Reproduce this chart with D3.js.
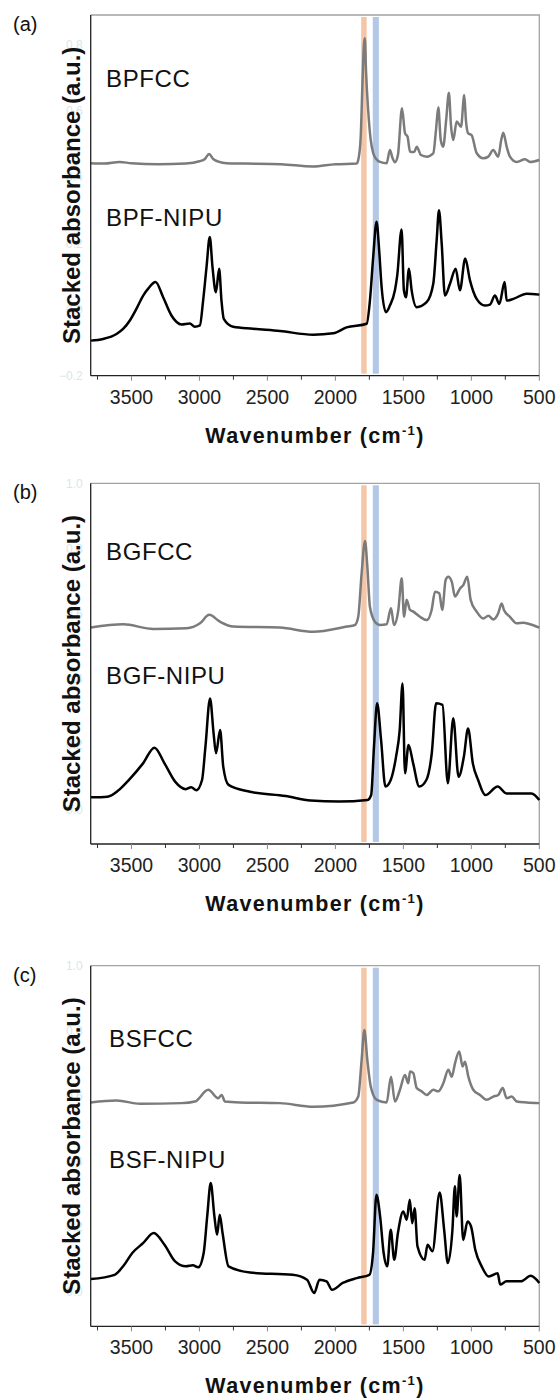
<!DOCTYPE html>
<html>
<head>
<meta charset="utf-8">
<script src="https://cdn.jsdelivr.net/npm/d3@7"></script>
<style>
  html, body { margin: 0; padding: 0; background: #fff; }
  svg { display: block; font-family: "Liberation Sans", Arial, sans-serif; }
</style>
</head>
<body>
<svg id="svg" width="559" height="1399"></svg>
<script>
// ---- data (wavenumber cm-1, absorbance) ----
const wnTicks = d3.range(500, 3751, 250);
const wnLabels = [3500, 3000, 2500, 2000, 1500, 1000, 500];
const bandRanges = [[1810, 1770], [1725, 1680]];

const bpfcc = [[3800,0.442],[3700,0.441],[3587,0.446],[3500,0.442],[3300,0.439],[3100,0.441],[3000,0.448],[2960,0.455],[2929,0.470],[2900,0.455],[2860,0.447],[2800,0.442],[2666,0.441],[2400,0.439],[2166,0.432],[2000,0.439],[1844,0.441],[1832,0.452],[1815,0.512],[1800,0.694],[1790,0.800],[1783,0.820],[1775,0.724],[1759,0.603],[1740,0.512],[1722,0.473],[1700,0.455],[1672,0.446],[1623,0.442],[1599,0.482],[1580,0.458],[1562,0.445],[1540,0.467],[1510,0.608],[1488,0.533],[1469,0.522],[1451,0.477],[1420,0.476],[1402,0.492],[1371,0.467],[1329,0.462],[1280,0.472],[1260,0.542],[1243,0.611],[1225,0.512],[1207,0.492],[1185,0.573],[1165,0.655],[1150,0.558],[1133,0.512],[1108,0.568],[1076,0.552],[1052,0.648],[1040,0.573],[1023,0.532],[998,0.527],[961,0.473],[912,0.457],[875,0.462],[839,0.482],[802,0.462],[780,0.512],[765,0.534],[740,0.492],[716,0.462],[666,0.446],[605,0.454],[568,0.446],[500,0.452]];

const bpfNipu = [[3800,-0.094],[3709,-0.089],[3610,-0.074],[3560,-0.058],[3512,-0.033],[3460,0.005],[3414,0.042],[3377,0.063],[3323,0.083],[3267,0.037],[3206,-0.018],[3132,-0.045],[3071,-0.042],[3034,-0.052],[2997,-0.048],[2973,0.027],[2948,0.128],[2924,0.219],[2904,0.128],[2879,0.052],[2855,0.123],[2838,0.027],[2821,-0.028],[2752,-0.052],[2605,-0.058],[2408,-0.065],[2163,-0.076],[2016,-0.072],[1918,-0.054],[1770,-0.043],[1746,0.027],[1722,0.158],[1697,0.265],[1678,0.179],[1660,0.068],[1628,-0.008],[1599,0.012],[1562,0.058],[1545,0.103],[1513,0.242],[1496,0.058],[1481,0.037],[1459,0.123],[1439,0.058],[1402,0.007],[1329,0.022],[1280,0.078],[1255,0.209],[1238,0.300],[1218,0.199],[1194,0.042],[1157,0.078],[1115,0.123],[1084,0.058],[1045,0.154],[1010,0.088],[961,0.032],[900,0.012],[863,0.015],[826,0.042],[794,0.017],[755,0.083],[740,0.027],[691,0.032],[593,0.048],[500,0.045]];

const bgfcc = [[3800,0.558],[3560,0.568],[3340,0.554],[3094,0.556],[2996,0.571],[2928,0.597],[2849,0.576],[2751,0.561],[2408,0.558],[2163,0.545],[1917,0.561],[1856,0.566],[1832,0.591],[1807,0.724],[1782,0.823],[1765,0.745],[1746,0.622],[1709,0.576],[1672,0.566],[1623,0.568],[1591,0.617],[1569,0.566],[1537,0.612],[1512,0.709],[1495,0.591],[1476,0.643],[1451,0.612],[1427,0.607],[1378,0.591],[1328,0.581],[1292,0.612],[1267,0.668],[1236,0.663],[1214,0.612],[1189,0.704],[1170,0.714],[1144,0.699],[1120,0.653],[1083,0.678],[1059,0.688],[1030,0.714],[1005,0.643],[961,0.607],[912,0.586],[875,0.594],[838,0.583],[802,0.602],[777,0.632],[760,0.612],[716,0.591],[666,0.571],[618,0.573],[568,0.568],[500,0.558]];

const bgfNipu = [[3800,0.038],[3677,0.040],[3600,0.058],[3520,0.091],[3415,0.142],[3331,0.190],[3257,0.142],[3179,0.086],[3100,0.063],[3061,0.069],[3022,0.060],[2981,0.091],[2956,0.193],[2922,0.341],[2896,0.234],[2878,0.173],[2848,0.244],[2825,0.132],[2786,0.076],[2628,0.055],[2366,0.042],[2183,0.028],[1973,0.025],[1763,0.030],[1737,0.045],[1716,0.193],[1693,0.326],[1664,0.214],[1632,0.071],[1593,0.091],[1554,0.162],[1527,0.244],[1506,0.387],[1488,0.112],[1462,0.198],[1428,0.142],[1383,0.071],[1331,0.091],[1291,0.173],[1259,0.326],[1212,0.321],[1173,0.081],[1133,0.280],[1094,0.101],[1055,0.162],[1024,0.249],[989,0.142],[950,0.091],[897,0.045],[806,0.071],[741,0.050],[635,0.050],[557,0.050],[500,0.030]];

const bsfcc = [[3800,0.581],[3609,0.587],[3438,0.577],[3131,0.579],[3033,0.584],[2935,0.620],[2862,0.594],[2837,0.604],[2812,0.584],[2702,0.581],[2408,0.579],[2163,0.568],[1868,0.581],[1832,0.599],[1807,0.711],[1787,0.803],[1765,0.711],[1740,0.630],[1696,0.589],[1623,0.581],[1591,0.660],[1562,0.584],[1525,0.620],[1488,0.665],[1464,0.640],[1451,0.676],[1427,0.671],[1402,0.625],[1365,0.615],[1328,0.604],[1280,0.620],[1243,0.615],[1206,0.640],[1169,0.681],[1144,0.660],[1120,0.701],[1089,0.737],[1064,0.691],[1047,0.706],[1022,0.660],[986,0.620],[936,0.604],[887,0.589],[838,0.599],[802,0.604],[769,0.625],[740,0.594],[703,0.599],[666,0.584],[593,0.581],[500,0.579]];

const bsfNipu = [[3800,0.040],[3624,0.053],[3560,0.080],[3494,0.120],[3415,0.150],[3336,0.181],[3257,0.145],[3179,0.094],[3100,0.079],[3048,0.082],[3009,0.076],[2969,0.120],[2943,0.232],[2917,0.334],[2890,0.232],[2870,0.176],[2851,0.237],[2830,0.181],[2786,0.079],[2628,0.060],[2314,0.053],[2209,0.038],[2156,-0.003],[2117,0.038],[2065,0.033],[2025,0.007],[1946,0.028],[1842,0.043],[1750,0.053],[1723,0.120],[1698,0.298],[1671,0.232],[1645,0.120],[1619,0.079],[1593,0.191],[1567,0.099],[1540,0.181],[1501,0.247],[1475,0.222],[1453,0.283],[1435,0.211],[1417,0.257],[1396,0.140],[1344,0.099],[1322,0.145],[1286,0.125],[1233,0.305],[1200,0.191],[1173,0.089],[1139,0.191],[1121,0.324],[1108,0.232],[1086,0.359],[1060,0.160],[1028,0.216],[1002,0.201],[971,0.130],[924,0.079],[872,0.048],[806,0.058],[788,0.023],[741,0.033],[635,0.033],[563,0.050],[500,0.028]];

const yTicksA = [-0.2, 0, 0.2, 0.4, 0.6, 0.8];
const yTicksBC = [0, 0.2, 0.4, 0.6, 0.8, 1.0];

// ---- layout ----
const left = 90.7, right = 539.3, plotH = 360.7;
const grey = "#7b7b7b", black = "#000";
const bandColors = ["#f4c5a6", "#b3c7e6"];

const panels = [
  { tag: "(a)", top: 15, yDomain: [-0.2, 0.89], yTicks: yTicksA,
    series: [
      { name: "BPFCC", data: bpfcc, color: grey, at: [3687, 0.671] },
      { name: "BPF-NIPU", data: bpfNipu, color: black, at: [3687, 0.252] }
    ] },
  { tag: "(b)", top: 483.3, yDomain: [-0.105, 1.0], yTicks: yTicksBC,
    series: [
      { name: "BGFCC", data: bgfcc, color: grey, at: [3687, 0.765] },
      { name: "BGF-NIPU", data: bgfNipu, color: black, at: [3687, 0.384] }
    ] },
  { tag: "(c)", top: 965.7, yDomain: [-0.105, 1.0], yTicks: yTicksBC,
    series: [
      { name: "BSFCC", data: bsfcc, color: grey, at: [3665, 0.752] },
      { name: "BSF-NIPU", data: bsfNipu, color: black, at: [3665, 0.381] }
    ] }
];

const svg = d3.select("#svg");
const x = d3.scaleLinear().domain([3800, 500]).range([left, right]);

panels.forEach(function (p) {
  const bottom = p.top + plotH;
  const y = d3.scaleLinear().domain(p.yDomain).range([bottom, p.top]);
  const g = svg.append("g");

  // panel tag
  g.append("text")
    .attr("x", 13).attr("y", p.top + 16)
    .attr("font-size", 20).attr("fill", "#111")
    .text(p.tag);

  // faint leftover y tick labels
  g.selectAll("text.ytick")
    .data(p.yTicks)
    .enter().append("text")
    .attr("class", "ytick")
    .attr("x", left - 8)
    .attr("y", function (d) { return y(d); })
    .attr("dy", "0.35em")
    .attr("text-anchor", "end")
    .attr("font-size", 12)
    .attr("fill", "#d7e7ec")
    .text(d3.format(".1f"));

  // y title
  g.append("text")
    .attr("transform", "translate(80," + (p.top + plotH / 2) + ") rotate(-90)")
    .attr("text-anchor", "middle")
    .attr("font-size", 24).attr("font-weight", "bold").attr("fill", "#111")
    .text("Stacked absorbance (a.u.)");

  // highlight bands
  g.selectAll("rect.band")
    .data(bandRanges)
    .enter().append("rect")
    .attr("class", "band")
    .attr("x", function (d) { return x(d[0]); })
    .attr("width", function (d) { return x(d[1]) - x(d[0]); })
    .attr("y", p.top + 2)
    .attr("height", plotH - 4)
    .attr("fill", function (d, i) { return bandColors[i]; });

  // frame top/right (grey)
  g.append("path")
    .attr("d", "M" + left + "," + p.top + "H" + right + "V" + bottom)
    .attr("fill", "none").attr("stroke", "#a3a3a3").attr("stroke-width", 1.3);

  // spectra
  const line = d3.line()
    .x(function (d) { return x(d[0]); })
    .y(function (d) { return y(d[1]); })
    .curve(d3.curveMonotoneX);

  p.series.forEach(function (s) {
    g.append("path")
      .datum(s.data)
      .attr("d", line)
      .attr("fill", "none")
      .attr("stroke", s.color)
      .attr("stroke-width", 2.5)
      .attr("stroke-linejoin", "round");

    g.append("text")
      .attr("x", x(s.at[0])).attr("y", y(s.at[1]))
      .attr("font-size", 24).attr("letter-spacing", 0.6).attr("fill", "#111")
      .text(s.name);
  });

  // left spine
  g.append("line")
    .attr("x1", left).attr("x2", left)
    .attr("y1", p.top).attr("y2", bottom)
    .attr("stroke", "#222").attr("stroke-width", 1.3);

  // bottom axis
  const axis = g.append("g").attr("transform", "translate(0," + bottom + ")");
  axis.append("line")
    .attr("x1", left).attr("x2", right)
    .attr("stroke", "#222").attr("stroke-width", 1.3);
  axis.selectAll("line.tick")
    .data(wnTicks)
    .enter().append("line")
    .attr("class", "tick")
    .attr("x1", function (d) { return x(d); })
    .attr("x2", function (d) { return x(d); })
    .attr("y1", 0)
    .attr("y2", function (d) { return d % 500 === 0 ? 5 : 4; })
    .attr("stroke", function (d) { return d % 500 === 0 ? "#888" : "#333"; })
    .attr("stroke-width", 1);
  axis.selectAll("text.tl")
    .data(wnLabels)
    .enter().append("text")
    .attr("class", "tl")
    .attr("x", function (d) { return x(d); })
    .attr("y", 28)
    .attr("text-anchor", "middle")
    .attr("font-size", 19.5).attr("fill", "#222")
    .text(function (d) { return d; });

  // x title
  const t = axis.append("text")
    .attr("x", (left + right) / 2).attr("y", 67)
    .attr("text-anchor", "middle")
    .attr("font-size", 21.5).attr("font-weight", "bold").attr("fill", "#111")
    .attr("letter-spacing", 1.3);
  t.append("tspan").text("Wavenumber (cm");
  t.append("tspan").attr("font-size", 13).attr("dy", -8).text("-1");
  t.append("tspan").attr("dy", 8).text(")");
});
</script>
</body>
</html>
